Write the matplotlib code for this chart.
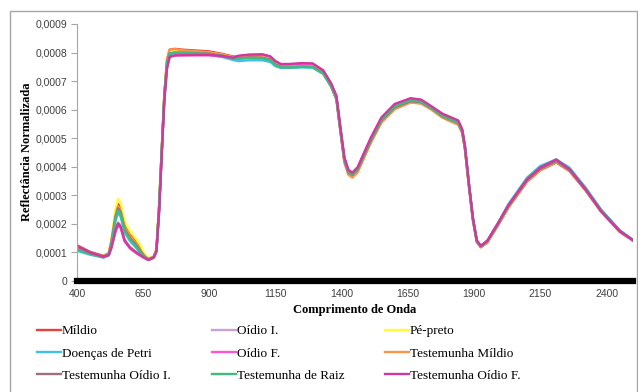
import numpy as np
import matplotlib
matplotlib.use("Agg")
import matplotlib.pyplot as plt
from matplotlib.patches import Rectangle
from matplotlib.ticker import FuncFormatter

# wavelengths (nm)
wl = [400, 450, 500, 520, 530, 545, 555, 565, 580, 600, 620, 640, 655, 670, 690,
      700, 710, 720, 730, 740, 750, 770,
      800, 850, 900, 950, 990, 1010, 1050, 1100, 1130, 1150, 1170, 1200, 1250, 1290,
      1330, 1360, 1380, 1395, 1410, 1425, 1440, 1460, 1480, 1510, 1550, 1600, 1660, 1700, 1740, 1780,
      1820, 1840, 1855, 1865, 1880, 1895, 1910, 1925, 1950, 1990, 2030, 2100, 2150, 2210, 2260, 2320, 2380, 2450, 2500]

# reflectance values, in units of 1e-4
mildio = [1.25, 1.02, 0.88, 0.98, 1.40, 2.35, 2.70, 2.55, 1.95, 1.62, 1.40, 1.12, 0.90, 0.78, 0.86,
          1.10, 2.55, 4.55, 6.55, 7.75, 8.10, 8.13,
          8.10, 8.07, 8.04, 7.95, 7.86, 7.86, 7.88, 7.87, 7.80, 7.63, 7.53, 7.52, 7.54, 7.53,
          7.30, 6.84, 6.38, 5.25, 4.18, 3.76, 3.66, 3.85, 4.27, 4.88, 5.58, 6.04, 6.27, 6.23, 6.01, 5.74,
          5.58, 5.50, 5.20, 4.65, 3.35, 2.15, 1.36, 1.18, 1.35, 1.95, 2.58, 3.48, 3.88, 4.15, 3.85, 3.18, 2.42, 1.72, 1.41]
oidio_i = [1.15, 0.96, 0.84, 0.92, 1.20, 1.80, 2.05, 1.95, 1.45, 1.20, 1.05, 0.92, 0.82, 0.75, 0.83,
           1.05, 2.50, 4.50, 6.45, 7.55, 7.90, 7.95,
           7.96, 7.95, 7.94, 7.88, 7.80, 7.85, 7.88, 7.88, 7.82, 7.66, 7.56, 7.55, 7.57, 7.56,
           7.33, 6.88, 6.44, 5.33, 4.30, 3.90, 3.80, 3.98, 4.38, 4.98, 5.68, 6.14, 6.37, 6.32, 6.08, 5.82,
           5.66, 5.58, 5.28, 4.72, 3.42, 2.22, 1.42, 1.22, 1.40, 2.00, 2.64, 3.54, 3.95, 4.23, 3.90, 3.21, 2.44, 1.74, 1.43]
pe_preto = [1.18, 0.97, 0.86, 0.98, 1.45, 2.50, 2.88, 2.75, 2.10, 1.75, 1.52, 1.25, 0.95, 0.80, 0.86,
            1.12, 2.70, 4.70, 6.60, 7.70, 8.02, 8.06,
            8.05, 8.02, 8.00, 7.92, 7.83, 7.84, 7.86, 7.85, 7.78, 7.61, 7.51, 7.50, 7.52, 7.51,
            7.29, 6.84, 6.39, 5.28, 4.22, 3.80, 3.70, 3.89, 4.30, 4.91, 5.61, 6.07, 6.29, 6.25, 6.03, 5.76,
            5.60, 5.52, 5.22, 4.68, 3.38, 2.18, 1.39, 1.21, 1.38, 1.98, 2.62, 3.52, 3.92, 4.18, 3.87, 3.20, 2.43, 1.73, 1.42]
petri = [1.06, 0.92, 0.82, 0.90, 1.28, 2.10, 2.38, 2.25, 1.70, 1.40, 1.20, 0.98, 0.84, 0.74, 0.82,
         1.06, 2.55, 4.55, 6.45, 7.55, 7.88, 7.95,
         7.95, 7.93, 7.92, 7.84, 7.74, 7.70, 7.73, 7.73, 7.67, 7.52, 7.46, 7.46, 7.48, 7.47,
         7.25, 6.80, 6.36, 5.27, 4.24, 3.84, 3.75, 3.94, 4.34, 4.95, 5.65, 6.10, 6.31, 6.26, 6.04, 5.77,
         5.61, 5.53, 5.23, 4.69, 3.39, 2.19, 1.40, 1.22, 1.41, 2.03, 2.70, 3.62, 4.03, 4.26, 3.97, 3.28, 2.50, 1.78, 1.44]
oidio_f = [1.20, 0.98, 0.84, 0.90, 1.15, 1.70, 1.95, 1.85, 1.38, 1.14, 1.00, 0.88, 0.80, 0.73, 0.82,
           1.02, 2.40, 4.40, 6.35, 7.45, 7.85, 7.90,
           7.90, 7.90, 7.90, 7.86, 7.80, 7.87, 7.91, 7.92, 7.85, 7.68, 7.58, 7.58, 7.61, 7.60,
           7.36, 6.90, 6.46, 5.35, 4.31, 3.88, 3.78, 3.97, 4.39, 5.00, 5.71, 6.18, 6.39, 6.34, 6.10, 5.85,
           5.69, 5.61, 5.30, 4.74, 3.43, 2.23, 1.42, 1.23, 1.41, 2.01, 2.65, 3.55, 3.96, 4.24, 3.91, 3.22, 2.44, 1.74, 1.43]
test_mildio = [1.20, 0.99, 0.86, 0.96, 1.38, 2.30, 2.63, 2.48, 1.90, 1.58, 1.36, 1.08, 0.88, 0.77, 0.85,
               1.08, 2.55, 4.55, 6.55, 7.75, 8.10, 8.12,
               8.08, 8.04, 8.01, 7.92, 7.83, 7.82, 7.84, 7.83, 7.76, 7.59, 7.50, 7.49, 7.51, 7.50,
               7.27, 6.81, 6.35, 5.22, 4.15, 3.72, 3.62, 3.81, 4.22, 4.84, 5.55, 6.02, 6.25, 6.21, 5.99, 5.72,
               5.55, 5.47, 5.18, 4.63, 3.34, 2.15, 1.37, 1.19, 1.36, 1.96, 2.59, 3.49, 3.89, 4.16, 3.86, 3.19, 2.43, 1.73, 1.42]
test_oidio_i = [1.22, 1.00, 0.86, 0.95, 1.35, 2.22, 2.55, 2.40, 1.82, 1.50, 1.30, 1.04, 0.86, 0.76, 0.84,
                1.07, 2.55, 4.55, 6.50, 7.65, 7.97, 8.00,
                8.00, 7.98, 7.96, 7.88, 7.80, 7.80, 7.83, 7.82, 7.75, 7.58, 7.50, 7.49, 7.51, 7.50,
                7.28, 6.83, 6.38, 5.27, 4.22, 3.80, 3.71, 3.90, 4.31, 4.92, 5.62, 6.08, 6.30, 6.26, 6.04, 5.77,
                5.61, 5.53, 5.23, 4.69, 3.39, 2.19, 1.40, 1.21, 1.39, 1.99, 2.63, 3.53, 3.93, 4.20, 3.88, 3.20, 2.43, 1.73, 1.42]
test_raiz = [1.10, 0.94, 0.83, 0.92, 1.30, 2.16, 2.47, 2.33, 1.76, 1.45, 1.24, 1.00, 0.85, 0.75, 0.83,
             1.08, 2.60, 4.60, 6.50, 7.62, 7.96, 8.00,
             7.99, 7.97, 7.95, 7.88, 7.79, 7.78, 7.81, 7.80, 7.73, 7.56, 7.48, 7.48, 7.50, 7.49,
             7.27, 6.82, 6.38, 5.28, 4.24, 3.83, 3.74, 3.93, 4.34, 4.95, 5.65, 6.11, 6.33, 6.28, 6.05, 5.79,
             5.62, 5.54, 5.24, 4.70, 3.40, 2.20, 1.40, 1.22, 1.40, 2.01, 2.67, 3.58, 3.99, 4.23, 3.93, 3.25, 2.47, 1.76, 1.43]
test_oidio_f = [1.22, 0.99, 0.85, 0.91, 1.18, 1.76, 2.02, 1.90, 1.42, 1.17, 1.02, 0.90, 0.81, 0.74, 0.83,
                1.03, 2.40, 4.40, 6.35, 7.45, 7.85, 7.90,
                7.91, 7.92, 7.92, 7.88, 7.82, 7.89, 7.93, 7.94, 7.87, 7.70, 7.60, 7.60, 7.63, 7.62,
                7.38, 6.92, 6.48, 5.37, 4.32, 3.89, 3.79, 3.98, 4.40, 5.02, 5.73, 6.20, 6.40, 6.35, 6.11, 5.86,
                5.70, 5.62, 5.31, 4.75, 3.44, 2.23, 1.42, 1.23, 1.41, 2.02, 2.66, 3.56, 3.97, 4.25, 3.92, 3.23, 2.45, 1.75, 1.43]

names = ["Míldio", "Oídio I.", "Pé-preto", "Doenças de Petri", "Oídio F.",
         "Testemunha Míldio", "Testemunha Oídio I.", "Testemunha de Raiz", "Testemunha Oídio F."]
series = [mildio, oidio_i, pe_preto, petri, oidio_f, test_mildio, test_oidio_i, test_raiz, test_oidio_f]
colors = ["#E8413C", "#C9A0DC", "#FFFF33", "#3FC1EA", "#FF55D4",
          "#F7964A", "#A0707F", "#3DBE7F", "#D0389E"]

serif = ["Liberation Serif", "DejaVu Serif"]
fig = plt.figure(figsize=(6.38, 3.92), dpi=100)
ax = fig.add_axes([77 / 638, 1 - 281 / 392, (633 - 77) / 638, (281 - 24) / 392])

lines = []
for name, vals, c in zip(names, series, colors):
    ln, = ax.plot(wl, np.array(vals) * 1e-4, color=c, lw=1.7, label=name,
                  solid_joinstyle="round")
    lines.append(ln)

ax.set_xlim(400, 2500)
ax.set_ylim(0, 0.0009)
ax.set_xticks(range(400, 2401, 250))
ax.set_yticks(np.arange(0, 0.00091, 0.0001))
ax.yaxis.set_major_formatter(FuncFormatter(
    lambda v, p: "0" if abs(v) < 1e-12 else ("%.4f" % v).replace(".", ",")))
for s in ["top", "right"]:
    ax.spines[s].set_visible(False)
ax.spines["left"].set_color("#A6A6A6")
ax.spines["bottom"].set_color("black")
ax.spines["bottom"].set_linewidth(4.5)
ax.tick_params(axis="y", length=4, color="#A6A6A6", labelsize=7.5, labelcolor="#404040", pad=3)
ax.tick_params(axis="x", length=0, labelsize=7.5, labelcolor="#404040", pad=6)
for lab in ax.get_xticklabels() + ax.get_yticklabels():
    lab.set_family("Liberation Sans")

fig.text(27 / 638, 1 - 152 / 392, "Reflectância Normalizada", rotation=90, ha="center",
         va="center", family=serif, fontweight="bold", fontsize=9)
fig.text(355 / 638, 1 - 310 / 392, "Comprimento de Onda", ha="center", va="center",
         family=serif, fontweight="bold", fontsize=9)

# legend in three columns
col_x = [37, 212, 385]
for k in range(3):
    hs = [lines[k], lines[k + 3], lines[k + 6]]
    fig.legend(hs, [h.get_label() for h in hs], loc="upper left",
               bbox_to_anchor=(col_x[k] / 638, 1 - 325 / 392), frameon=False,
               prop={"family": serif, "size": 9.5}, handlelength=1.8,
               handletextpad=0.1, labelspacing=0.77, borderpad=0, borderaxespad=0)

# outer border
fig.patches.append(Rectangle((10 / 638, -0.01), 0.999 - 10 / 638, 1.01 - 11 / 392,
                             transform=fig.transFigure, fill=False, ec="#A6A6A6", lw=1.0))

fig.savefig("out.png", dpi=100)
